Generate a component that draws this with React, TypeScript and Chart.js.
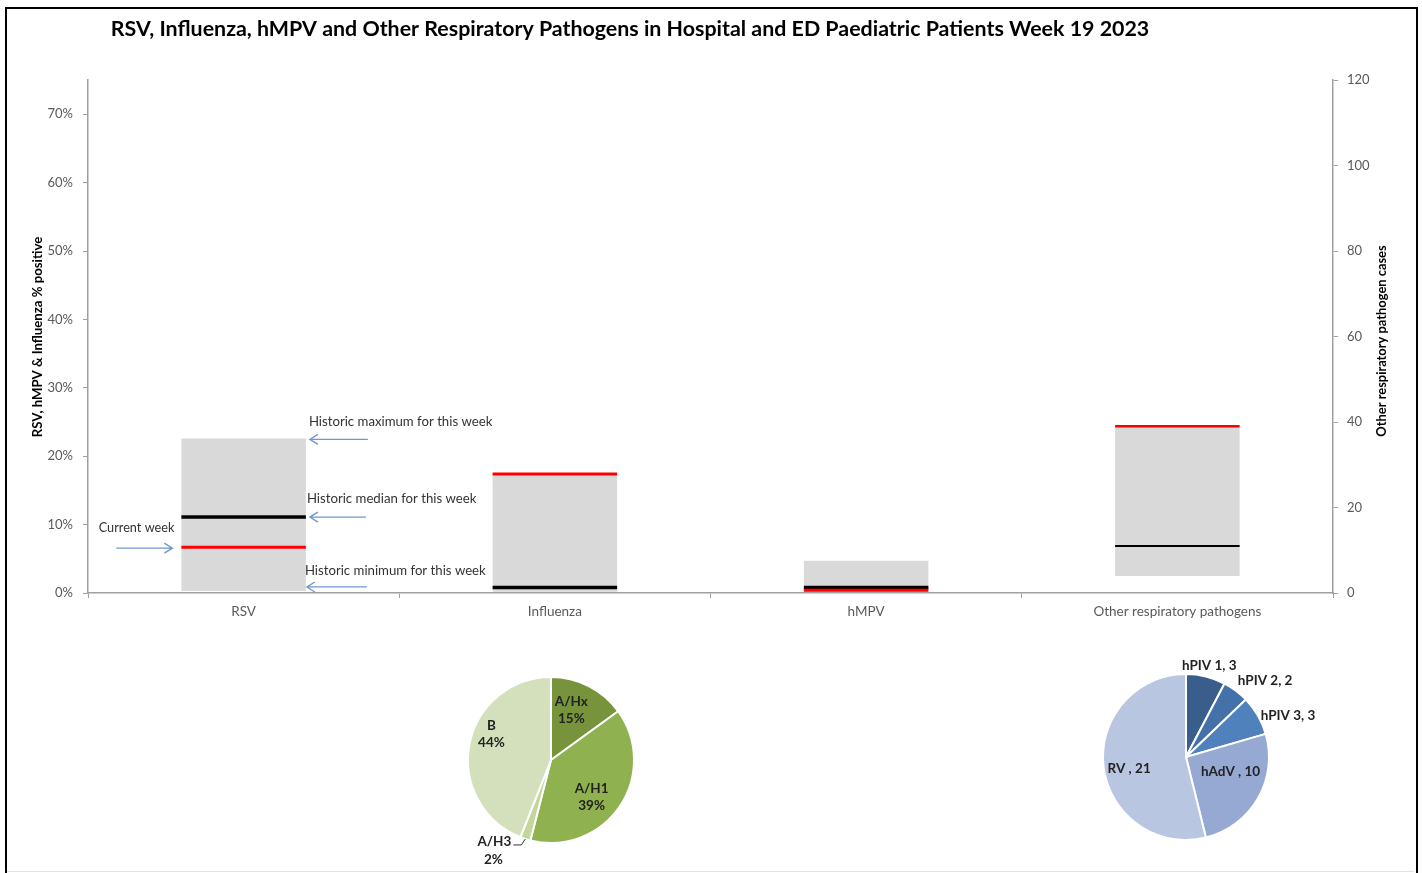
import React, { useEffect, useRef } from 'react';
import { Chart, registerables } from 'chart.js';
Chart.register(...registerables);

// ---------- DATA ----------
const categories = ['RSV', 'Influenza', 'hMPV', 'Other respiratory pathogens'];
const categoryAxis = ['y', 'y', 'y', 'y2'];
const historicMin = [0.3, 0.2, 0.2, 4];
const historicMax = [22.6, 17.4, 4.7, 39];
const historicMedian = [11.1, 0.8, 0.8, 11];
const currentWeek = [6.7, 17.4, 0.4, 39];
const percentTicks = [0, 10, 20, 30, 40, 50, 60, 70];
const caseTicks = [0, 20, 40, 60, 80, 100, 120];

const fluSubtypes = ['A/Hx', 'A/H1', 'A/H3', 'B'];
const fluShares = [15, 39, 2, 44];
const otherPathogens = ['hPIV 1', 'hPIV 2', 'hPIV 3', 'hAdV ', 'RV '];
const otherCounts = [3, 2, 3, 10, 21];

const TITLE = 'RSV, Influenza, hMPV and Other Respiratory Pathogens in Hospital and ED Paediatric Patients Week 19 2023';
const LEFT_TITLE = 'RSV, hMPV & Influenza % positive';
const RIGHT_TITLE = 'Other respiratory pathogen cases';

// ---------- STYLE ----------
const FONT = 'Lato, "Open Sans", sans-serif';
const AXIS_GRAY = '#a0a0a0';
const TICK_COLOR = '#595959';
const BAR_GRAY = '#d9d9d9';
const ARROW_BLUE = '#6f97cf';
const medianWidth = [3.5, 3.5, 3.5, 2.2];
const currentWidth = [3, 3, 3, 2.5];
const fluColors = ['#77933c', '#8fb150', '#c3d69b', '#d3e0bb'];
const otherColors = ['#395e8c', '#4571aa', '#4f81bd', '#95a9d3', '#b9c6e1'];

function drawArrow(ctx: CanvasRenderingContext2D, x1: number, y: number, x2: number) {
  const dir = x2 > x1 ? 1 : -1;
  ctx.save();
  ctx.strokeStyle = ARROW_BLUE;
  ctx.lineWidth = 1.3;
  ctx.beginPath();
  ctx.moveTo(x1, y);
  ctx.lineTo(x2, y);
  ctx.moveTo(x2 - dir * 8, y - 5);
  ctx.lineTo(x2, y);
  ctx.lineTo(x2 - dir * 8, y + 5);
  ctx.stroke();
  ctx.restore();
}

const decorPlugin = {
  id: 'decor',
  afterDatasetsDraw(chart: any) {
    const ctx: CanvasRenderingContext2D = chart.ctx;
    // median and current-week lines
    categories.forEach((_, i) => {
      const axis = categoryAxis[i];
      const meta = chart.getDatasetMeta(axis === 'y' ? 0 : 1);
      const el: any = meta.data[i];
      const sc = chart.scales[axis];
      const x0 = el.x - el.width / 2;
      const x1 = el.x + el.width / 2;
      ctx.save();
      ctx.lineCap = 'butt';
      ctx.strokeStyle = '#000';
      ctx.lineWidth = medianWidth[i];
      let y = sc.getPixelForValue(historicMedian[i]);
      ctx.beginPath(); ctx.moveTo(x0, y); ctx.lineTo(x1, y); ctx.stroke();
      ctx.strokeStyle = '#ff0000';
      ctx.lineWidth = currentWidth[i];
      y = sc.getPixelForValue(currentWeek[i]);
      ctx.beginPath(); ctx.moveTo(x0, y); ctx.lineTo(x1, y); ctx.stroke();
      ctx.restore();
    });

    // annotations around RSV bar
    const rsv: any = chart.getDatasetMeta(0).data[0];
    const ys = chart.scales.y;
    const right = rsv.x + rsv.width / 2;
    const left = rsv.x - rsv.width / 2;
    ctx.save();
    ctx.fillStyle = '#333';
    ctx.font = '13.2px ' + FONT;
    ctx.textBaseline = 'middle';
    ctx.textAlign = 'left';
    const yMax = ys.getPixelForValue(historicMax[0]) + 1;
    drawArrow(ctx, right + 62, yMax, right + 4);
    ctx.fillText('Historic maximum for this week', right + 3, yMax - 18);
    const yMed = ys.getPixelForValue(historicMedian[0]);
    drawArrow(ctx, right + 60, yMed, right + 4);
    ctx.fillText('Historic median for this week', right + 1, yMed - 18);
    const yMin = ys.getPixelForValue(historicMin[0]) - 4;
    drawArrow(ctx, right + 61, yMin, right + 1);
    ctx.fillText('Historic minimum for this week', right - 1, yMin - 16);
    const yCur = ys.getPixelForValue(currentWeek[0]) + 1;
    drawArrow(ctx, left - 65, yCur, left - 9);
    ctx.font = '12.7px ' + FONT;
    ctx.textAlign = 'right';
    ctx.fillText('Current week', left - 7, yCur - 20);
    ctx.restore();

    // titles
    ctx.save();
    ctx.fillStyle = '#000';
    ctx.textAlign = 'center';
    ctx.textBaseline = 'middle';
    ctx.font = 'bold 21.4px ' + FONT;
    ctx.fillText(TITLE, 630, 29);
    ctx.font = 'bold 13.2px ' + FONT;
    ctx.translate(38, 337);
    ctx.rotate(-Math.PI / 2);
    ctx.fillText(LEFT_TITLE, 0, 0);
    ctx.restore();
    ctx.save();
    ctx.fillStyle = '#000';
    ctx.textAlign = 'center';
    ctx.textBaseline = 'middle';
    ctx.font = 'bold 12.9px ' + FONT;
    ctx.translate(1382, 341);
    ctx.rotate(-Math.PI / 2);
    ctx.fillText(RIGHT_TITLE, 0, 0);
    ctx.restore();
  },
};

type LabelCfg = { r: number; align: CanvasTextAlign; dx: number; dy: number; leader?: boolean };

function makePieLabelPlugin(labels: string[][], cfgs: LabelCfg[]) {
  return {
    id: 'pieLabels',
    afterDatasetsDraw(chart: any) {
      const ctx: CanvasRenderingContext2D = chart.ctx;
      const meta = chart.getDatasetMeta(0);
      ctx.save();
      ctx.fillStyle = '#222';
      ctx.font = 'bold 13.5px ' + FONT;
      ctx.textBaseline = 'middle';
      meta.data.forEach((arc: any, i: number) => {
        const c = cfgs[i];
        const mid = (arc.startAngle + arc.endAngle) / 2;
        const R = arc.outerRadius;
        const lines = labels[i];
        if (c.leader) {
          const ex = arc.x + Math.cos(mid) * R;
          const ey = arc.y + Math.sin(mid) * R;
          const p1x = ex - 4, p1y = ey + 6;
          const p2x = p1x - 8;
          ctx.save();
          ctx.strokeStyle = '#333';
          ctx.lineWidth = 1;
          ctx.beginPath();
          ctx.moveTo(ex, ey); ctx.lineTo(p1x, p1y); ctx.lineTo(p2x, p1y);
          ctx.stroke();
          ctx.restore();
          ctx.textAlign = 'center';
          const tx = p2x - 19;
          ctx.fillText(lines[0], tx, p1y - 3);
          ctx.fillText(lines[1], tx - 1, p1y + 15);
          return;
        }
        const px = arc.x + Math.cos(mid) * R * c.r + c.dx;
        const py = arc.y + Math.sin(mid) * R * c.r + c.dy;
        ctx.textAlign = c.align;
        const lh = 17;
        const y0 = py - ((lines.length - 1) * lh) / 2;
        lines.forEach((t, k) => ctx.fillText(t, px, y0 + k * lh));
      });
      ctx.restore();
    },
  };
}

function PieCanvas(props: { labels: string[]; values: number[]; colors: string[]; textLines: string[][]; cfgs: LabelCfg[]; left: number; top: number }) {
  const ref = useRef<HTMLCanvasElement>(null);
  useEffect(() => {
    const chart = new Chart(ref.current as HTMLCanvasElement, {
      type: 'pie',
      data: {
        labels: props.labels,
        datasets: [{ data: props.values, backgroundColor: props.colors, borderColor: '#ffffff', borderWidth: 2 }],
      },
      options: {
        responsive: false,
        animation: false,
        radius: 83,
        layout: { padding: 0 },
        plugins: { legend: { display: false }, tooltip: { enabled: false } },
      } as any,
      plugins: [makePieLabelPlugin(props.textLines, props.cfgs)],
    });
    return () => chart.destroy();
  }, []);
  return (
    <canvas ref={ref} width={300} height={260}
      style={{ position: 'absolute', left: props.left, top: props.top, width: 300, height: 260 }} />
  );
}

function MainChart() {
  const ref = useRef<HTMLCanvasElement>(null);
  useEffect(() => {
    const tickFont = { family: FONT, size: 13.5 };
    const chart = new Chart(ref.current as HTMLCanvasElement, {
      type: 'bar',
      data: {
        labels: categories,
        datasets: [
          {
            data: categories.map((_, i) => (categoryAxis[i] === 'y' ? [historicMin[i], historicMax[i]] : null)) as any,
            backgroundColor: BAR_GRAY,
            yAxisID: 'y',
            grouped: false,
            barPercentage: 0.4,
            categoryPercentage: 1,
          },
          {
            data: categories.map((_, i) => (categoryAxis[i] === 'y2' ? [historicMin[i], historicMax[i]] : null)) as any,
            backgroundColor: BAR_GRAY,
            yAxisID: 'y2',
            grouped: false,
            barPercentage: 0.4,
            categoryPercentage: 1,
          },
        ],
      },
      options: {
        responsive: false,
        animation: false,
        layout: { padding: { top: 80, left: 0, right: 0, bottom: 0 } },
        plugins: { legend: { display: false }, tooltip: { enabled: false }, title: { display: false } },
        scales: {
          x: {
            grid: { display: true, drawOnChartArea: false, color: AXIS_GRAY, tickLength: 5, offset: true },
            border: { display: true, color: AXIS_GRAY, width: 1.5 },
            ticks: { color: TICK_COLOR, font: tickFont, padding: 6, maxRotation: 0 },
            afterFit: (s: any) => { s.height = 47; },
          },
          y: {
            position: 'left',
            min: 0,
            max: 75,
            grid: { display: true, drawOnChartArea: false, color: AXIS_GRAY, tickLength: 5 },
            border: { display: true, color: AXIS_GRAY, width: 1.5 },
            ticks: { color: TICK_COLOR, font: { family: FONT, size: 13 }, padding: 10, callback: (v: any) => v + '%' },
            afterBuildTicks: (s: any) => { s.ticks = percentTicks.map((v) => ({ value: v })); },
            afterFit: (s: any) => { s.width = 88; },
          },
          y2: {
            position: 'right',
            min: 0,
            max: 120,
            grid: { display: true, drawOnChartArea: false, color: AXIS_GRAY, tickLength: 5 },
            border: { display: true, color: AXIS_GRAY, width: 1.5 },
            ticks: { color: TICK_COLOR, font: { family: FONT, size: 13 }, padding: 9 },
            afterBuildTicks: (s: any) => { s.ticks = caseTicks.map((v) => ({ value: v })); },
            afterFit: (s: any) => { s.width = 89; },
          },
        },
      } as any,
      plugins: [decorPlugin],
    });
    return () => chart.destroy();
  }, []);
  return <canvas ref={ref} width={1422} height={640} style={{ position: 'absolute', left: 0, top: 0, width: 1422, height: 640 }} />;
}

const fluLayout: LabelCfg[] = [
  { r: 0.646, align: 'center', dx: -4, dy: -2 },
  { r: 0.664, align: 'center', dx: -5, dy: 6 },
  { r: 1, align: 'center', dx: 0, dy: 0, leader: true },
  { r: 0.78, align: 'center', dx: 4, dy: -14 },
];
const otherLayout: LabelCfg[] = [
  { r: 1.12, align: 'center', dx: 1, dy: -1 },
  { r: 1.04, align: 'left', dx: 0, dy: -7 },
  { r: 1.04, align: 'left', dx: 0, dy: 2 },
  { r: 0.55, align: 'center', dx: 5, dy: -8 },
  { r: 0.69, align: 'center', dx: 0, dy: 5 },
];

export default function App() {
  const fluText = fluSubtypes.map((s, i) => [s, fluShares[i] + '%']);
  const otherText = otherPathogens.map((s, i) => [s + ', ' + otherCounts[i]]);
  return (
    <div style={{ position: 'absolute', left: 0, top: 0, width: 1422, height: 873, overflow: 'hidden', background: '#fff' }}>
      <div style={{ position: 'absolute', left: 5, top: 7, width: 1409, height: 900, border: '2px solid #000' }} />
      <div style={{ position: 'absolute', left: 7, top: 871, width: 1407, height: 1, background: '#e4e4e4' }} />
      <MainChart />
      <PieCanvas labels={fluSubtypes} values={fluShares} colors={fluColors} textLines={fluText} cfgs={fluLayout} left={401} top={630} />
      <PieCanvas labels={otherPathogens} values={otherCounts} colors={otherColors} textLines={otherText} cfgs={otherLayout} left={1036} top={627} />
    </div>
  );
}
